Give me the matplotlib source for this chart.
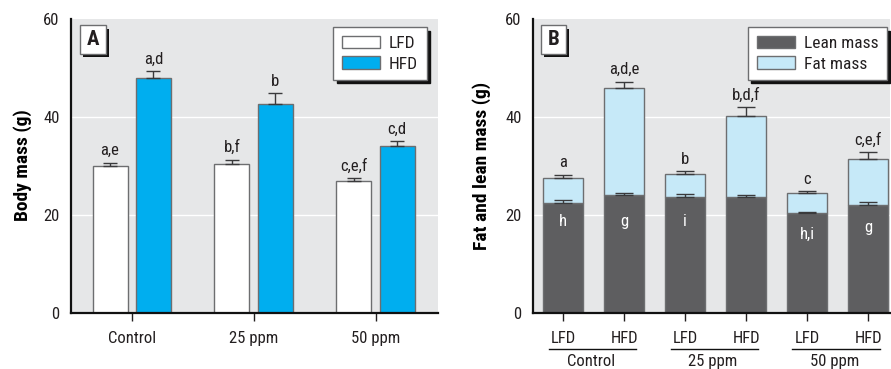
import matplotlib
matplotlib.use('Agg')
import matplotlib.pyplot as plt
import matplotlib.transforms as mtransforms
from matplotlib.patches import Rectangle
import numpy as np

# ---- data ----
groups = ['Control', '25 ppm', '50 ppm']
diets = ['LFD', 'HFD']

# panel A: body mass (g)
body_lfd = [29.9, 30.3, 26.8]
body_lfd_err = [0.7, 0.9, 0.7]
body_hfd = [47.9, 42.5, 34.0]
body_hfd_err = [1.4, 2.3, 1.0]
body_lfd_letters = ['a,e', 'b,f', 'c,e,f']
body_hfd_letters = ['a,d', 'b', 'c,d']

# panel B: lean and fat mass (g), order: Control LFD, HFD, 25 LFD, HFD, 50 LFD, HFD
lean_mass = [22.3, 24.0, 23.5, 23.5, 20.3, 22.0]
lean_err = [0.6, 0.4, 0.6, 0.5, 0.3, 0.5]
fat_mass = [5.1, 21.9, 4.7, 16.6, 4.1, 9.4]
fat_err = [0.7, 1.2, 0.6, 1.8, 0.4, 1.3]
total_letters = ['a', 'a,d,e', 'b', 'b,d,f', 'c', 'c,e,f']
lean_letters = ['h', 'g', 'i', '', 'h,i', 'g']
lean_letter_pos = [18.6, 18.6, 18.6, 18.6, 16.0, 17.3]

BG = '#e6e7e8'
TXT = '#231f20'
EDGE = '#6d6e70'
ERR = '#3a3a3c'
HFD_COLOR = '#00aeef'
LEAN_COLOR = '#5e5e60'
FAT_COLOR = '#c6e9f8'

plt.rcParams['font.family'] = ['Roboto Condensed', 'Archivo Narrow', 'DejaVu Sans']
plt.rcParams['text.color'] = TXT
plt.rcParams['xtick.color'] = TXT
plt.rcParams['ytick.color'] = TXT


def style_axes(ax):
    ax.set_facecolor(BG)
    for s in ['top', 'right']:
        ax.spines[s].set_visible(False)
    for s in ['left', 'bottom']:
        ax.spines[s].set_linewidth(1.6)
        ax.spines[s].set_color('#111111')
    ax.set_ylim(0, 60)
    ax.set_yticks([0, 20, 40, 60])
    ax.tick_params(axis='y', length=0, pad=8, labelsize=12)
    ax.tick_params(axis='x', length=6, width=1, pad=7, labelsize=12, direction='out')
    for y in [20, 40]:
        ax.axhline(y, color='white', lw=1, zorder=0.5)


def panel_label(ax, letter, x0):
    w, h = 0.072, 0.098
    y0 = 0.879
    ax.add_patch(Rectangle((x0 + 0.008, y0 - 0.011), w, h, transform=ax.transAxes,
                           facecolor='#111111', edgecolor='none', zorder=5))
    ax.add_patch(Rectangle((x0, y0), w, h, transform=ax.transAxes,
                           facecolor='white', edgecolor=EDGE, lw=1, zorder=6))
    ax.text(x0 + w / 2, y0 + h / 2, letter, transform=ax.transAxes, ha='center',
            va='center', fontsize=15, fontweight='bold', zorder=7)


def upper_err(ax, x, tops, errs, cap):
    ax.errorbar(x, tops, yerr=[np.zeros(len(errs)), errs], fmt='none',
                ecolor=ERR, elinewidth=1, capsize=cap, capthick=1, zorder=3)


def add_legend(ax, anchor):
    leg = ax.legend(loc='upper right', bbox_to_anchor=anchor, borderaxespad=0,
                    fancybox=False, edgecolor=EDGE, framealpha=1, fontsize=12.5,
                    handlelength=2.2, handleheight=0.7, labelspacing=0.3,
                    borderpad=0.5, handletextpad=0.5,
                    shadow={'ox': 2.3, 'oy': -2.3, 'facecolor': '#111111',
                            'edgecolor': '#111111', 'alpha': 1})
    leg.get_frame().set_linewidth(1)
    return leg


fig = plt.figure(figsize=(8.91, 3.69), dpi=100)

# ---- panel A ----
axA = fig.add_axes([0.0794, 0.1531, 0.4119, 0.7967])
style_axes(axA)
x = np.arange(len(groups))
w = 0.287
off = 0.178
axA.bar(x - off, body_lfd, w, color='white', edgecolor=EDGE, lw=1, label='LFD', zorder=2)
axA.bar(x + off, body_hfd, w, color=HFD_COLOR, edgecolor=EDGE, lw=1, label='HFD', zorder=2)
upper_err(axA, x - off, body_lfd, body_lfd_err, 5)
upper_err(axA, x + off, body_hfd, body_hfd_err, 5)
for i in range(len(groups)):
    axA.text(x[i] - off, body_lfd[i] + body_lfd_err[i] + 0.9, body_lfd_letters[i],
             ha='center', va='bottom', fontsize=12)
    axA.text(x[i] + off, body_hfd[i] + body_hfd_err[i] + 0.9, body_hfd_letters[i],
             ha='center', va='bottom', fontsize=12)
axA.set_xlim(-0.5, 2.51)
axA.set_xticks(x)
axA.set_xticklabels(groups)
axA.set_ylabel('Body mass (g)', fontsize=14, fontweight='bold', labelpad=8)
panel_label(axA, 'A', 0.0253)
add_legend(axA, (0.97, 0.97))

# ---- panel B ----
axB = fig.add_axes([0.5979, 0.1531, 0.4010, 0.7967])
style_axes(axB)
xb = np.arange(len(lean_mass))
wb = 0.66
totals = [lean_mass[i] + fat_mass[i] for i in range(len(lean_mass))]
axB.bar(xb, lean_mass, wb, color=LEAN_COLOR, edgecolor=EDGE, lw=1, label='Lean mass', zorder=2)
axB.bar(xb, fat_mass, wb, bottom=lean_mass, color=FAT_COLOR, edgecolor=EDGE, lw=1,
        label='Fat mass', zorder=2)
upper_err(axB, xb, lean_mass, lean_err, 6.5)
upper_err(axB, xb, totals, fat_err, 6.5)
for i in range(len(xb)):
    axB.text(xb[i], totals[i] + fat_err[i] + 0.9, total_letters[i],
             ha='center', va='bottom', fontsize=12)
    if lean_letters[i]:
        axB.text(xb[i], lean_letter_pos[i], lean_letters[i], ha='center', va='center',
                 fontsize=12, color='white', zorder=4)
axB.set_xlim(-0.5, 5.36)
axB.set_xticks(xb)
axB.set_xticklabels(diets * len(groups))
axB.set_ylabel('Fat and lean mass (g)', fontsize=14, fontweight='bold', labelpad=10)
panel_label(axB, 'B', 0.0224)
add_legend(axB, (0.992, 0.97))

# group labels under the diet labels
trans = mtransforms.blended_transform_factory(axB.transData, axB.transAxes)
for g, name in enumerate(groups):
    x0 = 2 * g
    axB.plot([x0 - 0.24, x0 + 1 + 0.2], [-0.124, -0.124], color='#111111', lw=1,
             transform=trans, clip_on=False)
    axB.text(x0 + 0.45, -0.14, name, transform=trans, ha='center', va='top', fontsize=12)

fig.savefig('out.png', dpi=100, facecolor='white')
